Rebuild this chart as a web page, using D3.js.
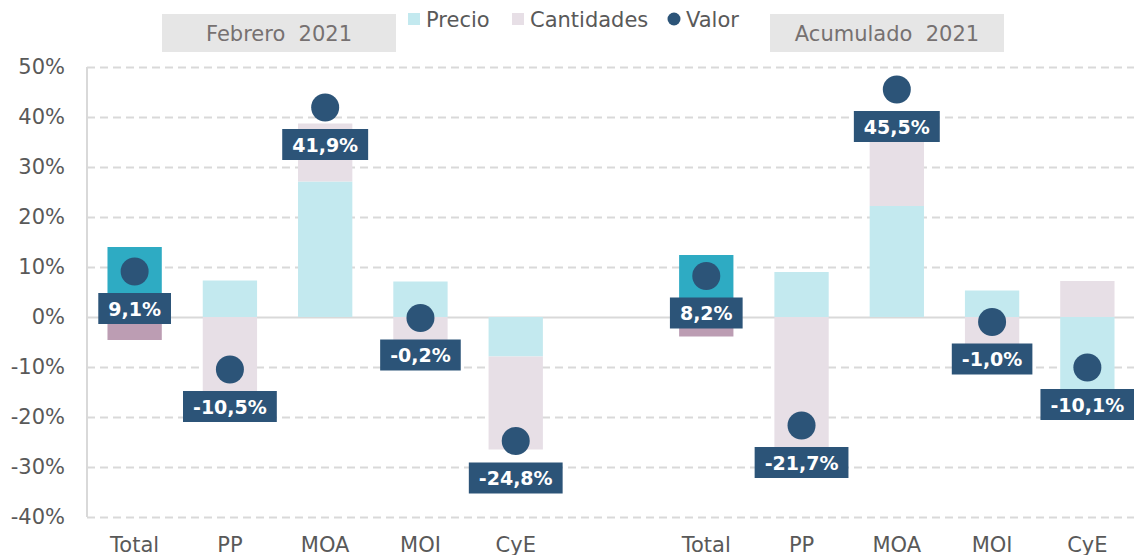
<!DOCTYPE html>
<html lang="es">
<head>
  <meta charset="UTF-8">
  <title>Precio, Cantidades y Valor</title>
  <script src="https://d3js.org/d3.v7.min.js"></script>
  <style>
    body { margin: 0; background: #fff; }
    svg { display: block; font-family: "DejaVu Sans", Verdana, sans-serif; }
  </style>
</head>
<body>
  <div id="viz"></div>
  <script>
    // data (% change)
    const categories = ["Total", "PP", "MOA", "MOI", "CyE"];
    const periods = ["Febrero  2021", "Acumulado  2021"];
    const febPrecio = [14.0, 7.3, 27.1, 7.1, -7.9];
    const febCantidades = [-4.6, -17.8, 11.6, -7.3, -18.6];
    const febValor = [9.1, -10.5, 41.9, -0.2, -24.8];
    const acuPrecio = [12.4, 9.0, 22.2, 5.3, -17.3];
    const acuCantidades = [-3.9, -30.7, 15.0, -6.3, 7.2];
    const acuValor = [8.2, -21.7, 45.5, -1.0, -10.1];
    const yTicks = [-40, -30, -20, -10, 0, 10, 20, 30, 40, 50];
    const legendItems = ["Precio", "Cantidades", "Valor"];

    const W = 1134, H = 555;
    const plotL = 87, plotR = 1135, plotT = 67, plotB = 517;

    const colors = {
      precio: "#C3E9EF", cantidades: "#E7DFE6",
      precioTotal: "#2EABC3", cantidadesTotal: "#BC9DB3",
      valor: "#2C5478", text: "#595959", grid: "#D9D9D9"
    };

    // rows: one per slot, with an empty slot between the two periods
    const rows = [];
    categories.forEach((c, i) => rows.push({ key: "f" + i, cat: c, precio: febPrecio[i], cantidades: febCantidades[i], valor: febValor[i] }));
    rows.push({ key: "gap", cat: "", precio: 0, cantidades: 0, valor: null });
    categories.forEach((c, i) => rows.push({ key: "a" + i, cat: c, precio: acuPrecio[i], cantidades: acuCantidades[i], valor: acuValor[i] }));

    const svg = d3.select("#viz").append("svg").attr("width", W).attr("height", H);

    const x = d3.scaleBand().domain(rows.map(d => d.key)).range([plotL, plotR]).padding(0);
    const barW = x.bandwidth() * 0.57;
    const cx = k => x(k) + x.bandwidth() / 2;
    const y = d3.scaleLinear().domain([-40, 50]).range([plotB, plotT]);

    // gridlines + y labels
    const yAxis = svg.append("g")
      .attr("transform", `translate(${plotL},0)`)
      .call(d3.axisLeft(y).tickValues(yTicks).tickFormat(d => d + "%").tickSize(-(plotR - plotL)).tickPadding(22));
    yAxis.select(".domain").remove();
    yAxis.selectAll(".tick line")
      .attr("stroke", colors.grid).attr("stroke-width", 2)
      .attr("stroke-dasharray", d => d === 0 ? null : "8,5");
    yAxis.selectAll(".tick text")
      .attr("fill", colors.text).attr("font-size", 21)
      .attr("font-family", "DejaVu Sans, Verdana, sans-serif");

    // left axis line
    svg.append("line")
      .attr("x1", plotL).attr("x2", plotL).attr("y1", y(50)).attr("y2", y(-40))
      .attr("stroke", colors.grid).attr("stroke-width", 2);

    // stacked bars
    const series = d3.stack().keys(["precio", "cantidades"]).offset(d3.stackOffsetDiverging)(rows);
    series.forEach(s => {
      svg.append("g").selectAll("rect")
        .data(s.filter(d => d.data.key !== "gap"))
        .join("rect")
        .attr("x", d => cx(d.data.key) - barW / 2)
        .attr("width", barW)
        .attr("y", d => y(Math.max(d[0], d[1])))
        .attr("height", d => Math.abs(y(d[0]) - y(d[1])))
        .attr("fill", d => d.data.cat === "Total"
          ? colors[s.key + "Total"] : colors[s.key]);
    });

    // valor dots and labels
    const vals = rows.filter(d => d.valor !== null);
    svg.append("g").selectAll("circle")
      .data(vals).join("circle")
      .attr("cx", d => cx(d.key)).attr("cy", d => y(d.valor))
      .attr("r", 14).attr("fill", colors.valor);

    const fmt = v => v.toFixed(1).replace(".", ",") + "%";
    vals.forEach(d => {
      const g = svg.append("g");
      const t = g.append("text")
        .attr("x", cx(d.key)).attr("y", y(d.valor) + 37 + 7)
        .attr("text-anchor", "middle")
        .attr("font-size", 19).attr("font-weight", "bold").attr("fill", "#fff")
        .text(fmt(d.valor));
      const tw = t.node().getComputedTextLength() + 20;
      g.insert("rect", "text")
        .attr("x", cx(d.key) - tw / 2).attr("y", y(d.valor) + 37 - 15.5)
        .attr("width", tw).attr("height", 31)
        .attr("fill", colors.valor);
    });

    // x labels
    svg.append("g").selectAll("text")
      .data(rows.filter(d => d.cat)).join("text")
      .attr("x", d => cx(d.key)).attr("y", 552)
      .attr("text-anchor", "middle")
      .attr("font-size", 21).attr("fill", colors.text)
      .text(d => d.cat);

    // period header boxes
    const headers = [{ x0: 162, x1: 396 }, { x0: 770, x1: 1004 }];
    headers.forEach((h, i) => {
      svg.append("rect")
        .attr("x", h.x0).attr("y", 14).attr("width", h.x1 - h.x0).attr("height", 38)
        .attr("fill", "#E6E6E6");
      svg.append("text")
        .attr("x", (h.x0 + h.x1) / 2).attr("y", 41)
        .attr("text-anchor", "middle")
        .attr("font-size", 21).attr("fill", "#767171")
        .style("white-space", "pre")
        .text(periods[i]);
    });

    // legend
    const legend = svg.append("g").attr("font-size", 21).attr("fill", colors.text);
    const legendX = [408, 512, 668];
    legendItems.forEach((name, i) => {
      if (name === "Valor") {
        legend.append("circle").attr("cx", legendX[i] + 6).attr("cy", 19).attr("r", 6.5).attr("fill", colors.valor);
      } else {
        legend.append("rect").attr("x", legendX[i]).attr("y", 13).attr("width", 12).attr("height", 12)
          .attr("fill", i === 0 ? colors.precio : colors.cantidades);
      }
      legend.append("text").attr("x", legendX[i] + 18).attr("y", 27).text(name);
    });
  </script>
</body>
</html>
